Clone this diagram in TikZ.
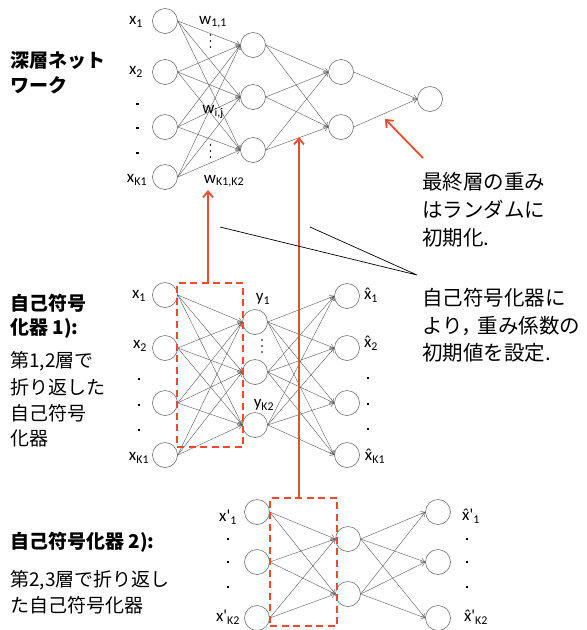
\documentclass[tikz,border=0pt]{standalone}
\usepackage{fontspec}
\setmainfont{Carlito}
\newfontfamily\cjk{Noto Sans CJK JP}
\usetikzlibrary{arrows.meta}
\definecolor{redo}{RGB}{236,76,46}
\definecolor{edgec}{RGB}{90,90,90}
\newcommand\xhatt{\accent"02C6 x}
\newcommand\prm{\textquotesingle}
\begin{document}
\begin{tikzpicture}[x=1pt,y=-1pt,
  neuron/.style={circle,draw=black!65,line width=0.5pt,minimum size=25pt,inner sep=0pt},
  conn/.style={draw=edgec,line width=0.4pt,-{Straight Barb[length=4pt,width=5pt]}},
  lbl/.style={font=\fontsize{17}{17}\selectfont,inner sep=0pt},
  jpl/.style={font=\cjk\fontsize{19}{19}\selectfont,anchor=west,inner sep=0pt},
  jpb/.style={font=\cjk\bfseries\fontsize{19}{19}\selectfont,anchor=west,inner sep=0pt},
  jpr/.style={font=\cjk\fontsize{20.5}{20.5}\selectfont,anchor=west,inner sep=0pt},
  redbox/.style={draw=redo,line width=1.8pt,dash pattern=on 7pt off 4.5pt,inner sep=0pt},
  redarrow/.style={draw=redo,line width=1.8pt,-{Straight Barb[length=6pt,width=10pt,line width=1.8pt]}},
  dotsq/.style={fill=black},
]
\useasboundingbox (0,0) rectangle (587,630);

% ---------------- top deep network ----------------
\node[neuron] (ta1) at (165,21) {};
\node[neuron] (ta2) at (165,72) {};
\node[neuron] (ta3) at (165,127) {};
\node[neuron] (ta4) at (165,177) {};
\node[neuron] (tb1) at (253,45) {};
\node[neuron] (tb2) at (253,97) {};
\node[neuron] (tb3) at (253,150) {};
\node[neuron] (tc1) at (341,72) {};
\node[neuron] (tc2) at (341,127) {};
\node[neuron] (td1) at (430,99) {};
\foreach \i in {1,...,4}{\foreach \j in {1,...,3}{\draw[conn] (ta\i.east) -- (tb\j.west);}}
\foreach \i in {1,...,3}{\foreach \j in {1,2}{\draw[conn] (tb\i.east) -- (tc\j.west);}}
\foreach \i in {1,2}{\draw[conn] (tc\i.east) -- (td1.west);}

\node[lbl] (tx1) at (136,22) {x\textsubscript{1}};
\node[lbl] (tx2) at (136,72) {x\textsubscript{2}};
\node[lbl] (txk) at (137,180) {x\textsubscript{K1}};
\foreach \y in {104,128,153}{\fill[dotsq] (137.5,\y) +(-1.4,-1.4) rectangle +(1.4,1.4);}
\node[lbl] (tw11) at (213,22) {w\textsubscript{1,1}};
\node[lbl] (twij) at (213,112) {w\textsubscript{i,j}};
\node[lbl] (twk) at (224,181) {w\textsubscript{K1,K2}};
\foreach \y in {35,41,47,145,151,157}{\fill (210.5,\y) circle (0.9);}

% ---------------- autoencoder 1 ----------------
\node[neuron] (ma1) at (165,295) {};
\node[neuron] (ma2) at (165,348) {};
\node[neuron] (ma3) at (165,403) {};
\node[neuron] (ma4) at (165,455) {};
\node[neuron] (mb1) at (255,322) {};
\node[neuron] (mb2) at (255,372) {};
\node[neuron] (mb3) at (255,425) {};
\node[neuron] (mc1) at (347,296) {};
\node[neuron] (mc2) at (347,348) {};
\node[neuron] (mc3) at (347,403) {};
\node[neuron] (mc4) at (347,455) {};
\foreach \i in {1,...,4}{\foreach \j in {1,...,3}{\draw[conn] (ma\i.east) -- (mb\j.west);}}
\foreach \i in {1,...,3}{\foreach \j in {1,...,4}{\draw[conn] (mb\i.east) -- (mc\j.west);}}

\node[lbl] (mx1) at (139,296) {x\textsubscript{1}};
\node[lbl] (mx2) at (140,346) {x\textsubscript{2}};
\node[lbl] (mxk) at (139,458) {x\textsubscript{K1}};
\foreach \y in {379,405,430}{\fill[dotsq] (139,\y) +(-1.4,-1.4) rectangle +(1.4,1.4);}
\node[lbl] (my1) at (263,299) {y\textsubscript{1}};
\node[lbl] (myk) at (264,405) {y\textsubscript{K2}};
\foreach \y in {340,346,352}{\fill (262,\y) circle (0.9);}
\node[lbl] (mh1) at (371,295) {\xhatt\textsubscript{1}};
\node[lbl] (mh2) at (371,343) {\xhatt\textsubscript{2}};
\node[lbl] (mhk) at (375,456) {\xhatt\textsubscript{K1}};
\foreach \y in {378,404,429}{\fill[dotsq] (368,\y) +(-1.4,-1.4) rectangle +(1.4,1.4);}

\node[redbox,minimum width=66pt,minimum height=164pt] (box1) at (210,365) {};

% ---------------- autoencoder 2 ----------------
\node[neuron] (ba1) at (257,512) {};
\node[neuron] (ba2) at (257,562) {};
\node[neuron] (ba3) at (257,618) {};
\node[neuron] (bb1) at (348,539) {};
\node[neuron] (bb2) at (348,594) {};
\node[neuron] (bc1) at (438,512) {};
\node[neuron] (bc2) at (438,562) {};
\node[neuron] (bc3) at (438,618) {};
\foreach \i in {1,...,3}{\foreach \j in {1,2}{\draw[conn] (ba\i.east) -- (bb\j.west);}}
\foreach \i in {1,2}{\foreach \j in {1,...,3}{\draw[conn] (bb\i.east) -- (bc\j.west);}}

\node[lbl] (bx1) at (228,517) {x\prm\textsubscript{1}};
\node[lbl] (bxk) at (228,617) {x\prm\textsubscript{K2}};
\foreach \y in {539,562,587}{\fill[dotsq] (228,\y) +(-1.4,-1.4) rectangle +(1.4,1.4);}
\node[lbl] (bh1) at (471,516) {\xhatt\prm\textsubscript{1}};
\node[lbl] (bhk) at (476,617) {\xhatt\prm\textsubscript{K2}};
\foreach \y in {539,562,587}{\fill[dotsq] (467,\y) +(-1.4,-1.4) rectangle +(1.4,1.4);}

\node[redbox,minimum width=67pt,minimum height=128pt] (box2) at (303.5,562) {};

% ---------------- red arrows & pointer lines ----------------
\coordinate (rt1) at (208,190);
\coordinate (rt2) at (299,137);
\coordinate (rs3) at (423,158);
\coordinate (rt3) at (385,119);
\draw[redarrow] ([xshift=-2pt]box1.north) -- (rt1);
\draw[redarrow] ([xshift=-4.5pt]box2.north) -- (rt2);
\draw[redarrow] (rs3) -- (rt3);

\coordinate (pa) at (220,227);
\coordinate (pb) at (310,227);
\coordinate (pc) at (417,275);
\draw[black,line width=0.7pt] (pa) -- (pc) -- (pb);

% ---------------- texts ----------------
\node[jpb] (L1a) at (10,60) {深層ネット};
\node[jpb] (L1b) at (10,85) {ワーク};

\node[jpb] (L2a) at (10,303) {自己符号};
\node[jpb] (L2b) at (10,328) {化器 1):};
\node[jpl] (L2c) at (10,361) {第1,2層で};
\node[jpl] (L2d) at (10,387) {折り返した};
\node[jpl] (L2e) at (10,413) {自己符号};
\node[jpl] (L2f) at (10,438) {化器};

\node[jpb] (L3a) at (10,542) {自己符号化器 2):};
\node[jpl] (L3b) at (10,580) {第2,3層で折り返し};
\node[jpl] (L3c) at (10,605) {た自己符号化器};

\node[jpr] (R1a) at (422,182) {最終層の重み};
\node[jpr] (R1b) at (422,210) {はランダムに};
\node[jpr] (R1c) at (422,238) {初期化.};

\node[jpr] (R2a) at (422,298) {自己符号化器に};
\node[jpr] (R2b) at (422,326) {より，\kern-4pt 重み係数の};
\node[jpr] (R2c) at (422,353) {初期値を設定.};
\end{tikzpicture}
\end{document}
